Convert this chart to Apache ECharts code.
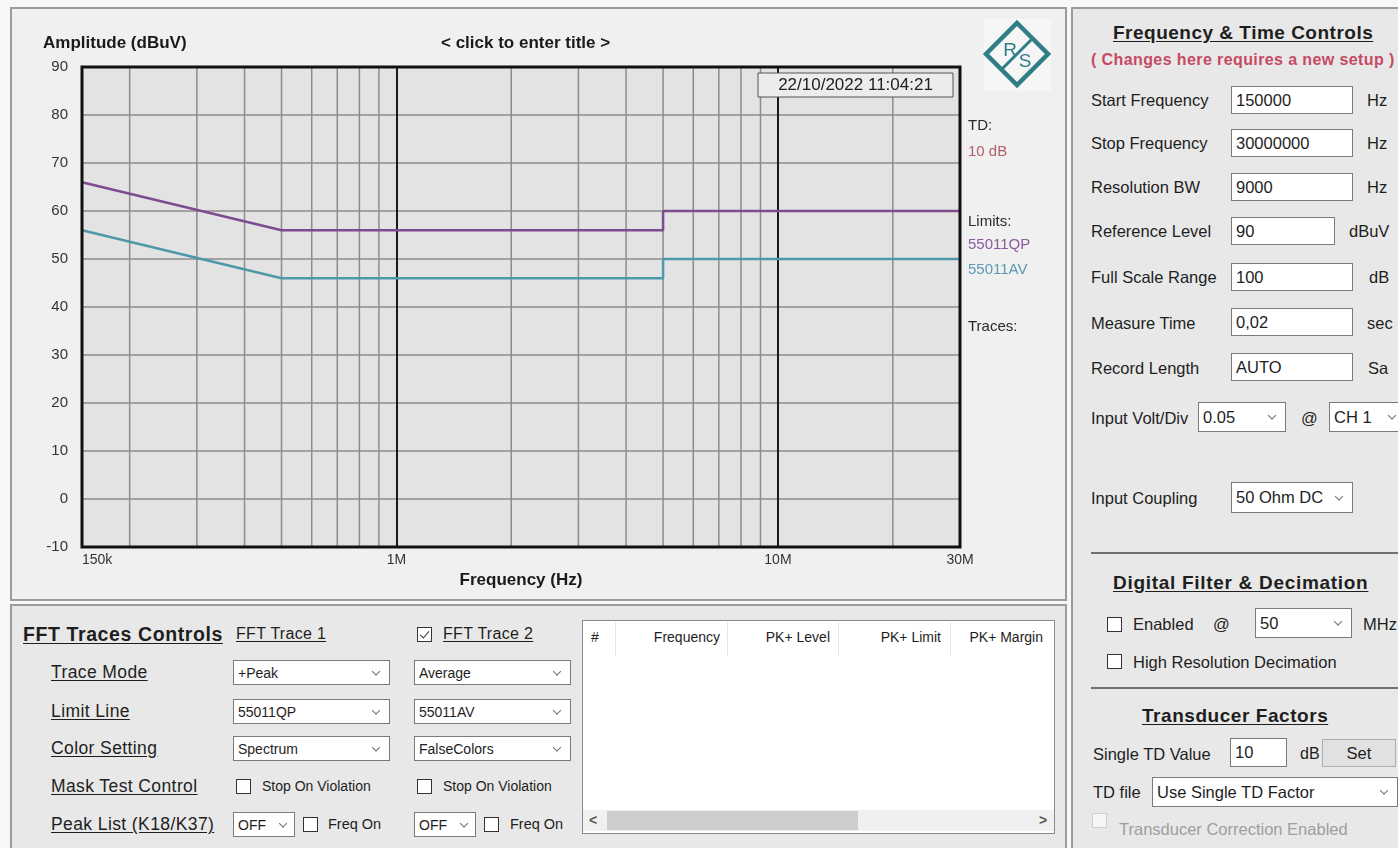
<!DOCTYPE html>
<html>
<head>
<meta charset="utf-8">
<title>FFT EMI Scan</title>
<script src="https://cdn.jsdelivr.net/npm/echarts@6/dist/echarts.min.js"></script>
<style>
  body{margin:0;width:1398px;height:848px;overflow:hidden;background:#f7f7f7;font-family:"Liberation Sans",Arial,sans-serif;color:#1e1e1e;position:relative}
  .panel{position:absolute;border:2px solid #9c9c9c;box-sizing:border-box}
  .t{position:absolute;white-space:nowrap;line-height:20px;height:20px}
  .u{text-decoration:underline;text-underline-offset:2px}
  .b{font-weight:bold}
  .box{position:absolute;background:#fff;border:1px solid #7a7a7a;box-sizing:border-box;white-space:nowrap;overflow:hidden;padding-left:4px;display:flex;align-items:center}
  .chev{position:absolute;right:10px;top:50%;width:5px;height:5px;border-right:1.3px solid #707070;border-bottom:1.3px solid #707070;transform:translateY(-75%) rotate(45deg)}
  .cb{position:absolute;width:15px;height:15px;background:#fff;border:1px solid #333;box-sizing:border-box}
  .cb.on::after{content:"";position:absolute;left:4px;top:1px;width:4px;height:8px;border-right:1.4px solid #333;border-bottom:1.4px solid #333;transform:rotate(40deg)}
  .sep{position:absolute;height:2px;background:#707070}
  .rl{font-size:17.5px;letter-spacing:0.4px}
</style>
</head>
<body>

<!-- spectrum plot panel -->
<div class="panel" style="left:10px;top:7px;width:1057px;height:594px;background:#f0f0f0">
  <div id="chart" style="position:absolute;left:0;top:0;width:1053px;height:590px"></div>
</div>

<!-- FFT trace controls -->
<div class="panel" style="left:10px;top:604px;width:1057px;height:250px;background:#e8e8e8"></div>
<div class="t b u" style="left:23px;top:624px;font-size:19.5px;letter-spacing:0.6px">FFT Traces Controls</div>
<div class="t u" style="left:236px;top:624px;font-size:16px;letter-spacing:0.3px">FFT Trace 1</div>
<div class="cb on" style="left:417px;top:627px"></div>
<div class="t u" style="left:443px;top:624px;font-size:16px;letter-spacing:0.3px">FFT Trace 2</div>

<div class="t u rl" style="left:51px;top:662px">Trace Mode</div>
<div class="t u rl" style="left:51px;top:701px">Limit Line</div>
<div class="t u rl" style="left:51px;top:738px">Color Setting</div>
<div class="t u rl" style="left:51px;top:776px">Mask Test Control</div>
<div class="t u rl" style="left:51px;top:814px">Peak List (K18/K37)</div>

<div class="box" style="left:233px;top:660px;width:157px;height:25px;font-size:14px">+Peak<span class="chev"></span></div>
<div class="box" style="left:414px;top:660px;width:157px;height:25px;font-size:14px">Average<span class="chev"></span></div>
<div class="box" style="left:233px;top:699px;width:157px;height:25px;font-size:14px">55011QP<span class="chev"></span></div>
<div class="box" style="left:414px;top:699px;width:157px;height:25px;font-size:14px">55011AV<span class="chev"></span></div>
<div class="box" style="left:233px;top:736px;width:157px;height:25px;font-size:14px">Spectrum<span class="chev"></span></div>
<div class="box" style="left:414px;top:736px;width:157px;height:25px;font-size:14px">FalseColors<span class="chev"></span></div>

<div class="cb" style="left:236px;top:779px"></div>
<div class="t" style="left:262px;top:776px;font-size:14px">Stop On Violation</div>
<div class="cb" style="left:417px;top:779px"></div>
<div class="t" style="left:443px;top:776px;font-size:14px">Stop On Violation</div>

<div class="box" style="left:233px;top:812px;width:62px;height:25px;font-size:14px">OFF<span class="chev" style="right:8px"></span></div>
<div class="cb" style="left:303px;top:817px"></div>
<div class="t" style="left:328px;top:814px;font-size:14.5px">Freq On</div>
<div class="box" style="left:414px;top:812px;width:62px;height:25px;font-size:14px">OFF<span class="chev" style="right:8px"></span></div>
<div class="cb" style="left:484px;top:817px"></div>
<div class="t" style="left:510px;top:814px;font-size:14.5px">Freq On</div>

<!-- peak list table -->
<div style="position:absolute;left:582px;top:620px;width:473px;height:214px;background:#fff;border:1px solid #8a8a8a;box-sizing:border-box"></div>
<div style="position:absolute;left:615px;top:622px;width:1px;height:34px;background:#e6e6e6"></div>
<div style="position:absolute;left:727px;top:622px;width:1px;height:34px;background:#e6e6e6"></div>
<div style="position:absolute;left:838px;top:622px;width:1px;height:34px;background:#e6e6e6"></div>
<div style="position:absolute;left:950px;top:622px;width:1px;height:34px;background:#e6e6e6"></div>
<div class="t" style="left:591px;top:627px;font-size:14px">#</div>
<div class="t" style="left:620px;top:627px;width:100px;text-align:right;font-size:14px">Frequency</div>
<div class="t" style="left:730px;top:627px;width:100px;text-align:right;font-size:14px">PK+ Level</div>
<div class="t" style="left:841px;top:627px;width:100px;text-align:right;font-size:14px">PK+ Limit</div>
<div class="t" style="left:943px;top:627px;width:100px;text-align:right;font-size:14px">PK+ Margin</div>
<div style="position:absolute;left:583px;top:810px;width:471px;height:21px;background:#f0f0f0"></div>
<div style="position:absolute;left:607px;top:811px;width:251px;height:19px;background:#cdcdcd"></div>
<div class="t b" style="left:589px;top:810px;font-size:14px;color:#555">&lt;</div>
<div class="t b" style="left:1039px;top:810px;font-size:14px;color:#555">&gt;</div>

<!-- frequency & time controls -->
<div class="panel" style="left:1071px;top:7px;width:340px;height:850px;background:#e8e8e8"></div>
<div class="t b u" style="left:1113px;top:23px;font-size:19px;letter-spacing:0.5px">Frequency &amp; Time Controls</div>
<div class="t b" style="left:1091px;top:50px;font-size:16px;letter-spacing:0.4px;color:#c64a63">( Changes here requires a new setup )</div>

<div class="t" style="left:1091px;top:90px;font-size:16.5px">Start Frequency</div>
<div class="box" style="left:1231px;top:86px;width:122px;height:28px;font-size:16.5px">150000</div>
<div class="t" style="left:1367px;top:90px;font-size:16.5px">Hz</div>

<div class="t" style="left:1091px;top:133px;font-size:16.5px">Stop Frequency</div>
<div class="box" style="left:1231px;top:129px;width:122px;height:28px;font-size:16.5px">30000000</div>
<div class="t" style="left:1367px;top:133px;font-size:16.5px">Hz</div>

<div class="t" style="left:1091px;top:177px;font-size:16.5px">Resolution BW</div>
<div class="box" style="left:1231px;top:173px;width:122px;height:28px;font-size:16.5px">9000</div>
<div class="t" style="left:1367px;top:177px;font-size:16.5px">Hz</div>

<div class="t" style="left:1091px;top:221px;font-size:16.5px">Reference Level</div>
<div class="box" style="left:1231px;top:217px;width:104px;height:28px;font-size:16.5px">90</div>
<div class="t" style="left:1349px;top:221px;font-size:16.5px">dBuV</div>

<div class="t" style="left:1091px;top:267px;font-size:16.5px">Full Scale Range</div>
<div class="box" style="left:1231px;top:263px;width:122px;height:28px;font-size:16.5px">100</div>
<div class="t" style="left:1369px;top:267px;font-size:16.5px">dB</div>

<div class="t" style="left:1091px;top:313px;font-size:16.5px">Measure Time</div>
<div class="box" style="left:1231px;top:308px;width:122px;height:28px;font-size:16.5px">0,02</div>
<div class="t" style="left:1367px;top:313px;font-size:16.5px">sec</div>

<div class="t" style="left:1091px;top:358px;font-size:16.5px">Record Length</div>
<div class="box" style="left:1231px;top:353px;width:122px;height:28px;font-size:16.5px">AUTO</div>
<div class="t" style="left:1368px;top:358px;font-size:16.5px">Sa</div>

<div class="t" style="left:1091px;top:408px;font-size:16.5px">Input Volt/Div</div>
<div class="box" style="left:1198px;top:402px;width:88px;height:30px;font-size:16.5px">0.05<span class="chev"></span></div>
<div class="t" style="left:1301px;top:408px;font-size:16.5px">@</div>
<div class="box" style="left:1329px;top:402px;width:82px;height:30px;font-size:16.5px">CH 1<span class="chev" style="right:15px"></span></div>

<div class="t" style="left:1091px;top:488px;font-size:16.5px">Input Coupling</div>
<div class="box" style="left:1231px;top:482px;width:122px;height:31px;font-size:16.5px">50 Ohm DC<span class="chev"></span></div>

<div class="sep" style="left:1091px;top:552px;width:320px"></div>
<div class="t b u" style="left:1113px;top:573px;font-size:19px;letter-spacing:0.7px">Digital Filter &amp; Decimation</div>

<div class="cb" style="left:1107px;top:617px"></div>
<div class="t" style="left:1133px;top:614px;font-size:16.5px">Enabled</div>
<div class="t" style="left:1213px;top:614px;font-size:16.5px">@</div>
<div class="box" style="left:1255px;top:608px;width:97px;height:30px;font-size:16.5px">50<span class="chev"></span></div>
<div class="t" style="left:1363px;top:614px;font-size:16.5px">MHz</div>

<div class="cb" style="left:1107px;top:654px"></div>
<div class="t" style="left:1133px;top:652px;font-size:16.5px">High Resolution Decimation</div>

<div class="sep" style="left:1091px;top:687px;width:320px"></div>
<div class="t b u" style="left:1142px;top:706px;font-size:19px;letter-spacing:0.55px">Transducer Factors</div>

<div class="t" style="left:1093px;top:744px;font-size:16.5px">Single TD Value</div>
<div class="box" style="left:1230px;top:738px;width:57px;height:29px;font-size:16.5px">10</div>
<div class="t" style="left:1300px;top:744px;font-size:16px">dB</div>
<div style="position:absolute;left:1322px;top:739px;width:74px;height:28px;background:#e1e1e1;border:1px solid #adadad;box-sizing:border-box;font-size:16.5px;line-height:26px;text-align:center">Set</div>

<div class="t" style="left:1093px;top:782px;font-size:16.5px">TD file</div>
<div class="box" style="left:1152px;top:777px;width:246px;height:30px;font-size:16.5px">Use Single TD Factor<span class="chev"></span></div>

<div class="cb" style="left:1092px;top:813px;border-color:#cfcfcf;background:#f6f6f6"></div>
<div class="t" style="left:1119px;top:819px;font-size:16.5px;color:#9e9e9e">Transducer Correction Enabled</div>

<script>
// Axis ranges and tick labels
const freqStart = 150000;
const freqStop = 30000000;
const levelMin = -10;
const levelMax = 90;
const levelStep = 10;
const xTickValues = [150000, 1000000, 10000000, 30000000];
const xTickLabels = ['150k', '1M', '10M', '30M'];

// Decade sub-divisions (2..9 x 10^n) drawn as thin grid lines
const minorGridFreqs = [200000, 300000, 400000, 500000, 600000, 700000, 800000, 900000,
  2000000, 3000000, 4000000, 5000000, 6000000, 7000000, 8000000, 9000000, 20000000];

// EN 55011 conducted emission limits (frequency in Hz, level in dBuV)
const qpLimitFreq = [150000, 500000, 5000000, 5000000, 30000000];
const qpLimitLevel = [66, 56, 56, 60, 60];
const avLimitFreq = [150000, 500000, 5000000, 5000000, 30000000];
const avLimitLevel = [56, 46, 46, 50, 50];

const qpName = '55011QP';
const avName = '55011AV';
const qpColor = '#7d4b8e';
const avColor = '#4f98aa';

const plotTitle = '< click to enter title >';
const yAxisTitle = 'Amplitude (dBuV)';
const xAxisTitle = 'Frequency (Hz)';
const stampText = '22/10/2022 11:04:21';
const tdLabel = 'TD:';
const tdValueText = '10 dB';

const FONT = '"Liberation Sans", Arial, sans-serif';
const zip = (xs, ys) => xs.map((x, i) => [x, ys[i]]);

function tickText(v) {
  const i = xTickValues.findIndex(t => Math.abs(t - v) / t < 1e-6);
  return i >= 0 ? xTickLabels[i] : '';
}

const chart = echarts.init(document.getElementById('chart'), null, { renderer: 'canvas' });

// Logo diamond geometry
const lc = [1005, 45], lr = 31;
const logoColor = '#2f7d86';

chart.setOption({
  animation: false,
  backgroundColor: '#f0f0f0',
  textStyle: { fontFamily: FONT },
  title: [
    { text: yAxisTitle, left: 31, top: 26, padding: 0,
      textStyle: { fontSize: 17, fontWeight: 'bold', color: '#1a1a1a', fontFamily: FONT } },
    { text: plotTitle, left: 429, top: 26, padding: 0,
      textStyle: { fontSize: 17, fontWeight: 'bold', color: '#1a1a1a', fontFamily: FONT } }
  ],
  legend: {
    orient: 'vertical', left: 951, top: 228, padding: 0,
    icon: 'none', itemWidth: 0, itemHeight: 10, itemGap: 10,
    selectedMode: false,
    textStyle: { fontSize: 15, fontFamily: FONT },
    data: [
      { name: qpName, textStyle: { color: '#8a5c9c' } },
      { name: avName, textStyle: { color: '#5a9ab2' } }
    ]
  },
  grid: {
    left: 70, top: 58, width: 878, height: 480,
    show: true, backgroundColor: '#e3e3e3', borderWidth: 0
  },
  xAxis: {
    type: 'log', logBase: 10, min: freqStart, max: freqStop,
    name: xAxisTitle, nameLocation: 'middle', nameGap: 21,
    nameTextStyle: { fontSize: 17, fontWeight: 'bold', color: '#1a1a1a', fontFamily: FONT },
    axisLine: { show: false }, axisTick: { show: false },
    axisLabel: {
      margin: 6, fontSize: 14, color: '#333', fontFamily: FONT,
      showMinLabel: true, showMaxLabel: true, alignMinLabel: 'left',
      formatter: tickText
    },
    splitLine: { show: true, lineStyle: { color: '#1a1a1a', width: 2 } }
  },
  yAxis: {
    type: 'value', min: levelMin, max: levelMax, interval: levelStep,
    axisLine: { show: false }, axisTick: { show: false },
    axisLabel: { margin: 14, fontSize: 15, color: '#333', fontFamily: FONT },
    splitLine: { show: true, lineStyle: { color: '#8c8c8c', width: 1.5 } }
  },
  graphic: [
    // date/time stamp box
    { type: 'rect', shape: { x: 746, y: 64, width: 195, height: 24 },
      style: { fill: '#ececec', stroke: '#555', lineWidth: 1 }, z: 20 },
    { type: 'text', x: 843.5, y: 76, z: 21,
      style: { text: stampText, font: '17px ' + FONT, fill: '#222', align: 'center', verticalAlign: 'middle' } },
    // side annotations
    { type: 'text', x: 956, y: 117, style: { text: tdLabel, font: '15px ' + FONT, fill: '#2a2a2a', verticalAlign: 'middle' } },
    { type: 'text', x: 956, y: 143, style: { text: tdValueText, font: '15px ' + FONT, fill: '#b0606a', verticalAlign: 'middle' } },
    { type: 'text', x: 956, y: 213, style: { text: 'Limits:', font: '15px ' + FONT, fill: '#2a2a2a', verticalAlign: 'middle' } },
    { type: 'text', x: 956, y: 318, style: { text: 'Traces:', font: '15px ' + FONT, fill: '#2a2a2a', verticalAlign: 'middle' } },
    // R&S style logo
    { type: 'rect', shape: { x: 972, y: 10, width: 67, height: 72 }, style: { fill: '#f6f6f6' } },
    { type: 'polygon', shape: { points: [[lc[0], lc[1] - lr], [lc[0] + lr, lc[1]], [lc[0], lc[1] + lr], [lc[0] - lr, lc[1]]] },
      style: { fill: 'none', stroke: logoColor, lineWidth: 4.5 } },
    { type: 'line', shape: { x1: lc[0] + lr / 2, y1: lc[1] - lr / 2, x2: lc[0] - lr / 2, y2: lc[1] + lr / 2 },
      style: { stroke: logoColor, lineWidth: 3 } },
    { type: 'text', x: 998, y: 42, style: { text: 'R', font: '19px ' + FONT, fill: logoColor, align: 'center', verticalAlign: 'middle' } },
    { type: 'text', x: 1013, y: 53, style: { text: 'S', font: '19px ' + FONT, fill: logoColor, align: 'center', verticalAlign: 'middle' } }
  ],
  series: [
    {
      // thin decade grid lines
      type: 'custom', name: 'grid-minor', silent: true, z: 1,
      encode: { x: 0, y: [1, 2] },
      data: minorGridFreqs.map(f => [f, levelMin, levelMax]),
      renderItem: (params, api) => {
        const p1 = api.coord([api.value(0), api.value(1)]);
        const p2 = api.coord([api.value(0), api.value(2)]);
        return { type: 'line', shape: { x1: p1[0], y1: p1[1], x2: p2[0], y2: p2[1] },
          style: { stroke: '#8c8c8c', lineWidth: 1.5 } };
      }
    },
    {
      name: qpName, type: 'line', z: 3, symbol: 'none',
      data: zip(qpLimitFreq, qpLimitLevel),
      lineStyle: { color: qpColor, width: 2.5 }, itemStyle: { color: qpColor }
    },
    {
      name: avName, type: 'line', z: 3, symbol: 'none',
      data: zip(avLimitFreq, avLimitLevel),
      lineStyle: { color: avColor, width: 2.5 }, itemStyle: { color: avColor }
    },
    {
      // plot frame
      type: 'custom', name: 'frame', silent: true, z: 10,
      encode: { x: [0, 2], y: [1, 3] },
      data: [[freqStart, levelMax, freqStop, levelMin]],
      renderItem: (params, api) => {
        const a = api.coord([api.value(0), api.value(1)]);
        const b = api.coord([api.value(2), api.value(3)]);
        return { type: 'rect', shape: { x: a[0], y: a[1], width: b[0] - a[0], height: b[1] - a[1] },
          style: { fill: 'none', stroke: '#111', lineWidth: 3 } };
      }
    }
  ]
});
</script>
</body>
</html>
